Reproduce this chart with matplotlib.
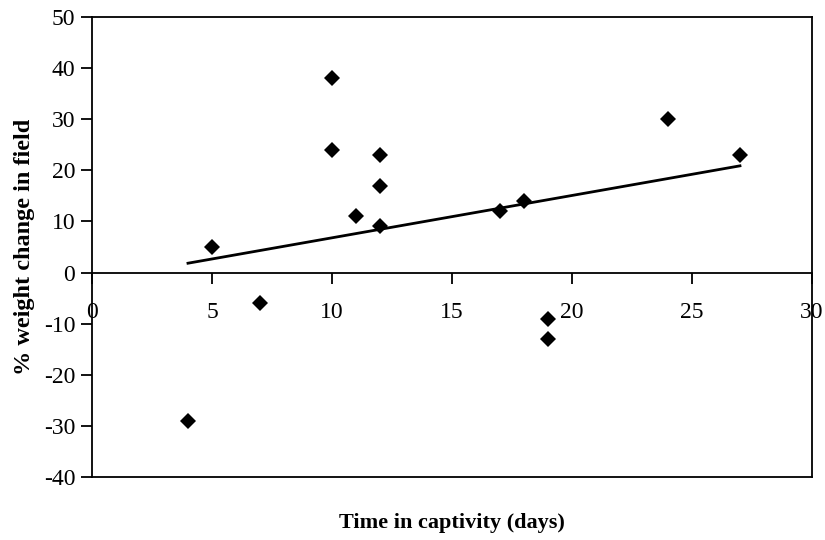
import numpy as np
import matplotlib
matplotlib.use('Agg')
import matplotlib.pyplot as plt

# days in captivity vs % weight change in field
days = [4, 5, 7, 10, 10, 11, 12, 12, 12, 17, 18, 19, 19, 24, 27]
change = [-29, 5, -6, 38, 24, 11, 23, 17, 9, 12, 14, -9, -13, 30, 23]

xticks = [0, 5, 10, 15, 20, 25, 30]
yticks = [-40, -30, -20, -10, 0, 10, 20, 30, 40, 50]

plt.rcParams['font.family'] = ['Liberation Serif', 'DejaVu Serif']
plt.rcParams['axes.unicode_minus'] = False

fig = plt.figure(figsize=(8.25, 5.4), dpi=100)
ax = fig.add_axes([0.1115, 0.1167, 0.8727, 0.852])

ax.plot(days, change, 'D', color='black', ms=8.5, mew=0)

# linear trend line over the data range
k, b = np.polyfit(days, change, 1)
xl = np.array([min(days), max(days)])
ax.plot(xl, k * xl + b, color='black', lw=2)

ax.set_xlim(0, 30)
ax.set_ylim(-40, 50)
ax.set_xticks(xticks)
ax.set_yticks(yticks)

# x axis crosses at zero, frame kept around the plot
ax.spines['bottom'].set_position(('data', 0))
for s in ax.spines.values():
    s.set_linewidth(1.3)
ax.axhline(-40, color='black', lw=1.3, clip_on=False)

ax.tick_params(axis='x', direction='out', length=8, width=1.3, pad=13, labelsize=17)
ax.tick_params(axis='y', direction='out', length=8, width=1.3, pad=4, labelsize=17)

ax.set_ylabel('% weight change in field', fontsize=17.5, fontweight='bold', labelpad=6)
fig.text(0.548, 0.031, 'Time in captivity (days)', fontsize=16, fontweight='bold',
         ha='center', va='center')

plt.savefig('out.png', dpi=100)
plt.close()
